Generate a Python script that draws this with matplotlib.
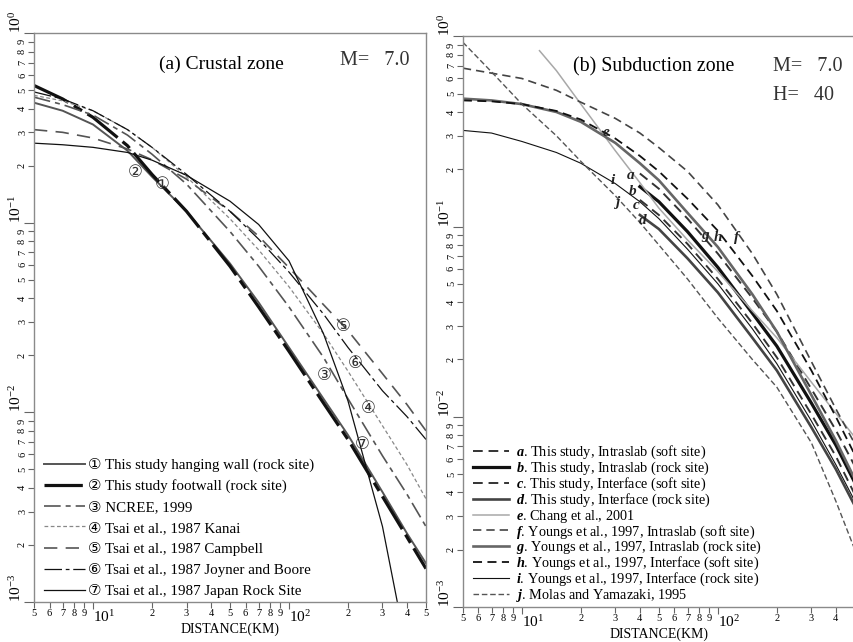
import numpy as np
import matplotlib
matplotlib.use('Agg')
import matplotlib.pyplot as plt
from matplotlib.ticker import LogLocator, FuncFormatter

plt.rcParams['font.family'] = ['Liberation Serif', 'DejaVu Sans']
plt.rcParams['mathtext.fontset'] = 'custom'
plt.rcParams['mathtext.rm'] = 'Liberation Serif'
plt.rcParams['mathtext.it'] = 'Liberation Serif:italic:bold'

# ------------------------------------------------------------
# (a) Crustal zone, M = 7.0
# ------------------------------------------------------------
dist_crustal = [5, 7, 10, 15, 20, 30, 50, 70, 100, 150, 200, 300, 400, 500]
hanging_wall = [0.43, 0.39, 0.33, 0.24, 0.175, 0.115, 0.061, 0.038, 0.022, 0.0118, 0.0076, 0.0038, 0.0023, 0.0016]
footwall = [0.53, 0.45, 0.36, 0.255, 0.18, 0.115, 0.059, 0.036, 0.021, 0.0112, 0.0072, 0.0036, 0.0022, 0.0015]
ncree = [0.46, 0.42, 0.37, 0.29, 0.23, 0.16, 0.09, 0.059, 0.036, 0.0195, 0.0118, 0.0059, 0.0037, 0.0025]
kanai = [0.47, 0.44, 0.39, 0.31, 0.25, 0.175, 0.105, 0.072, 0.046, 0.026, 0.0165, 0.0085, 0.0053, 0.0035]
campbell = [0.31, 0.30, 0.28, 0.245, 0.215, 0.17, 0.115, 0.085, 0.058, 0.037, 0.027, 0.016, 0.011, 0.008]
joyner_boore = [0.49, 0.45, 0.39, 0.31, 0.25, 0.18, 0.115, 0.082, 0.055, 0.033, 0.022, 0.013, 0.0095, 0.0072]
japan_rock = [0.263, 0.258, 0.25, 0.235, 0.214, 0.178, 0.13, 0.098, 0.063, 0.026, 0.0115, 0.0025, 0.00055, 0.00018]

crustal_labels = [
    '\u2460 This study hanging wall (rock site)',
    '\u2461 This study footwall (rock site)',
    '\u2462 NCREE, 1999',
    '\u2463 Tsai et al., 1987 Kanai',
    '\u2464 Tsai et al., 1987 Campbell',
    '\u2465 Tsai et al., 1987 Joyner and Boore',
    '\u2466 Tsai et al., 1987 Japan Rock Site',
]
# curve tags drawn on the plot: (text, x km, y g)
crustal_tags = [('\u2461', 16.4, 0.185), ('\u2460', 22.5, 0.16), ('\u2464', 188, 0.0285),
                ('\u2465', 217, 0.0183), ('\u2462', 152, 0.0158), ('\u2463', 253, 0.0105),
                ('\u2466', 236, 0.0068)]

# ------------------------------------------------------------
# (b) Subduction zone, M = 7.0, H = 40
# ------------------------------------------------------------
dist_sub = [5, 7, 10, 15, 20, 30, 40, 50, 70, 100, 150, 200, 300, 400, 500]
dist_hypo = [40, 50, 70, 100, 150, 200, 300, 400, 500]
dist_chang = [12.3, 15, 20, 30, 40, 50, 70, 100, 150, 200, 300, 500]

intraslab_soft = [0.19, 0.158, 0.11, 0.072, 0.042, 0.028, 0.014, 0.0085, 0.0055]
intraslab_rock = [0.162, 0.135, 0.094, 0.061, 0.035, 0.0235, 0.0118, 0.0071, 0.0045]
interface_soft = [0.138, 0.115, 0.081, 0.053, 0.031, 0.0205, 0.0103, 0.0062, 0.0039]
interface_rock = [0.115, 0.097, 0.068, 0.045, 0.026, 0.0175, 0.0088, 0.0053, 0.0034]
chang = [0.84, 0.66, 0.44, 0.25, 0.17, 0.125, 0.085, 0.058, 0.036, 0.026, 0.0152, 0.0078]
youngs_slab_soft = [0.68, 0.64, 0.60, 0.52, 0.45, 0.37, 0.31, 0.26, 0.195, 0.13, 0.072, 0.044, 0.0195, 0.011, 0.0072]
youngs_slab_rock = [0.47, 0.46, 0.44, 0.40, 0.355, 0.275, 0.215, 0.175, 0.118, 0.078, 0.044, 0.028, 0.013, 0.0075, 0.0047]
youngs_intf_soft = [0.46, 0.455, 0.44, 0.405, 0.365, 0.29, 0.235, 0.195, 0.14, 0.095, 0.055, 0.036, 0.0175, 0.010, 0.0063]
youngs_intf_rock = [0.32, 0.31, 0.28, 0.245, 0.215, 0.168, 0.135, 0.11, 0.076, 0.05, 0.029, 0.019, 0.0095, 0.0056, 0.0036]
molas = [0.93, 0.65, 0.44, 0.30, 0.22, 0.145, 0.105, 0.08, 0.053, 0.033, 0.020, 0.0143, 0.0073, 0.0036, 0.002]

sub_letters = ['a', 'b', 'c', 'd', 'e', 'f', 'g', 'h', 'i', 'j']
sub_labels = [
    'This study, Intraslab (soft site)',
    'This study, Intraslab (rock site)',
    'This study, Interface (soft site)',
    'This study, Interface (rock site)',
    'Chang et al., 2001',
    'Youngs et al., 1997, Intraslab (soft site)',
    'Youngs et al., 1997, Intraslab (rock site)',
    'Youngs et al., 1997, Interface (soft site)',
    'Youngs et al., 1997, Interface (rock site)',
    'Molas and Yamazaki, 1995',
]
sub_tags = [('e', 26.8, 0.313), ('i', 29.1, 0.175), ('a', 36.0, 0.186), ('b', 36.8, 0.153),
            ('c', 38.2, 0.129), ('j', 30.5, 0.133), ('d', 41.4, 0.108),
            ('g', 87, 0.088), ('h', 100, 0.088), ('f', 125, 0.088)]


def minor_digit(v, pos):
    exp = np.floor(np.log10(v) + 1e-9)
    d = int(round(v / 10 ** exp))
    if d == 1:
        return ''
    return str(d)


def major_power(v, pos):
    return r'$10^{%d}$' % int(round(np.log10(v)))


def style_axes(ax):
    ax.set_xscale('log')
    ax.set_yscale('log')
    ax.set_xlim(5, 500)
    ax.set_ylim(1e-3, 1)
    for sp in ax.spines.values():
        sp.set_color('#8a8a8a')
        sp.set_linewidth(1.0)
    ax.xaxis.set_major_locator(LogLocator(base=10, numticks=10))
    ax.xaxis.set_minor_locator(LogLocator(base=10, subs=np.arange(2, 10), numticks=20))
    ax.yaxis.set_major_locator(LogLocator(base=10, numticks=10))
    ax.yaxis.set_minor_locator(LogLocator(base=10, subs=np.arange(2, 10), numticks=20))
    ax.xaxis.set_major_formatter(FuncFormatter(major_power))
    ax.xaxis.set_minor_formatter(FuncFormatter(minor_digit))
    ax.yaxis.set_major_formatter(FuncFormatter(major_power))
    ax.yaxis.set_minor_formatter(FuncFormatter(minor_digit))
    ax.tick_params(axis='both', which='both', direction='out', color='#666666', width=0.8)
    ax.tick_params(axis='both', which='major', length=7, labelsize=11, pad=0)
    ax.tick_params(axis='x', which='major', length=5)
    ax.tick_params(axis='both', which='minor', length=4, labelsize=7.5, pad=1)
    ax.tick_params(axis='y', which='both', labelrotation=90)
    ax.set_xlabel('DISTANCE(KM)', fontsize=10, labelpad=-2)


def align_ticklabels(ax):
    for lab in ax.yaxis.get_majorticklabels():
        lab.set_verticalalignment('bottom')
    for lab in ax.yaxis.get_minorticklabels():
        lab.set_verticalalignment('center')
    for lab in ax.xaxis.get_majorticklabels():
        lab.set_horizontalalignment('left')


fig = plt.figure(figsize=(8.54, 6.42), dpi=100)
ax1 = fig.add_axes([0.0398, 0.0623, 0.459, 0.886])
ax2 = fig.add_axes([0.542, 0.0545, 0.459, 0.889])

# ---- panel (a)
crustal_series = [hanging_wall, footwall, ncree, kanai, campbell, joyner_boore, japan_rock]
crustal_styles = [
    dict(color='#555555', lw=1.4, ls='-'),
    dict(color='#111111', lw=2.3, ls=(0, (12, 2, 3, 2))),
    dict(color='#555555', lw=1.2, ls=(0, (10, 3, 3, 3))),
    dict(color='#888888', lw=0.9, ls=(0, (3, 2))),
    dict(color='#555555', lw=1.2, ls=(0, (8, 5))),
    dict(color='#111111', lw=0.9, ls=(0, (14, 3, 3, 3))),
    dict(color='#111111', lw=0.9, ls='-'),
]
for vals, st, lab in zip(crustal_series, crustal_styles, crustal_labels):
    ax1.plot(dist_crustal, vals, label=lab, **st)

for txt, xv, yv in crustal_tags:
    ax1.text(xv, yv, txt, fontsize=12, ha='center', va='center', color='#333333',
             family=['DejaVu Sans'])

style_axes(ax1)
ax1.text(0.32, 0.945, '(a) Crustal zone', transform=ax1.transAxes, fontsize=14, ha='left', va='center')
ax1.text(0.78, 0.952, 'M=   7.0', transform=ax1.transAxes, fontsize=14.5, ha='left', va='center',
         color='#333333')
ax1.legend(loc='lower left', bbox_to_anchor=(0.0, -0.012), frameon=False, fontsize=10.8,
           handlelength=2.7, handletextpad=0.2, labelspacing=0.48, borderaxespad=0.3)

# ---- panel (b)
sub_dists = [dist_hypo, dist_hypo, dist_hypo, dist_hypo, dist_chang,
             dist_sub, dist_sub, dist_sub, dist_sub, dist_sub]
sub_series = [intraslab_soft, intraslab_rock, interface_soft, interface_rock, chang,
              youngs_slab_soft, youngs_slab_rock, youngs_intf_soft, youngs_intf_rock, molas]
sub_styles = [
    dict(color='#333333', lw=1.4, ls=(0, (5, 3))),
    dict(color='#111111', lw=2.3, ls='-'),
    dict(color='#333333', lw=1.4, ls=(0, (5, 3))),
    dict(color='#444444', lw=1.9, ls='-'),
    dict(color='#a8a8a8', lw=1.1, ls='-'),
    dict(color='#444444', lw=1.2, ls=(0, (5, 3))),
    dict(color='#666666', lw=1.9, ls='-'),
    dict(color='#111111', lw=1.3, ls=(0, (5, 3))),
    dict(color='#111111', lw=0.8, ls='-'),
    dict(color='#555555', lw=1.0, ls=(0, (4, 2))),
]
for d, vals, st, let, lab in zip(sub_dists, sub_series, sub_styles, sub_letters, sub_labels):
    ax2.plot(d, vals, label=r'$%s$. %s' % (let, lab), **st)

for txt, xv, yv in sub_tags:
    ax2.text(xv, yv, r'$%s$' % txt, fontsize=11, ha='center', va='center', color='#222222')

style_axes(ax2)
ax2.text(0.28, 0.947, '(b) Subduction zone', transform=ax2.transAxes, fontsize=14.3, ha='left', va='center')
ax2.text(0.79, 0.947, 'M=   7.0', transform=ax2.transAxes, fontsize=14.5, ha='left', va='center',
         color='#333333')
ax2.text(0.79, 0.897, 'H=   40', transform=ax2.transAxes, fontsize=14.5, ha='left', va='center',
         color='#333333')
ax2.legend(loc='lower left', bbox_to_anchor=(0.0, -0.012), frameon=False, fontsize=10.3,
           handlelength=2.5, handletextpad=0.5, labelspacing=-0.1, borderaxespad=0.3)

for ax in (ax1, ax2):
    align_ticklabels(ax)

fig.savefig('out.png', dpi=100)
